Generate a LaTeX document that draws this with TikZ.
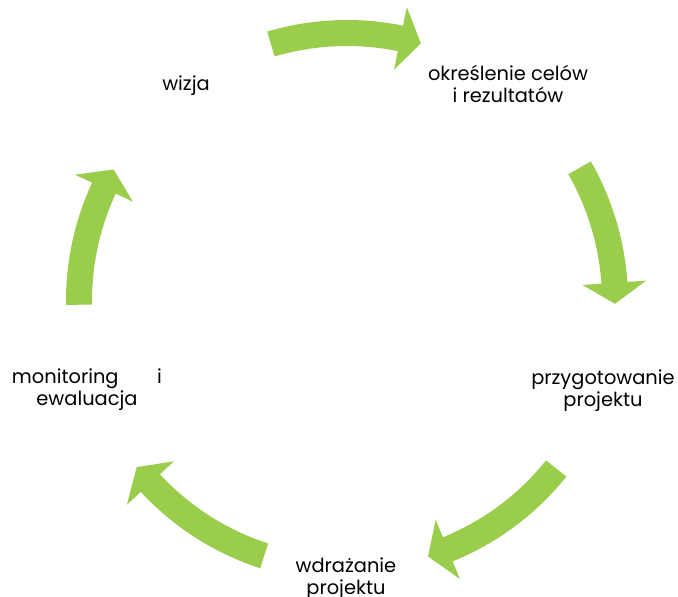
\documentclass[tikz,border=0pt]{standalone}
\usepackage{fontspec}
\setmainfont{Poppins}

\definecolor{cyclegreen}{RGB}{155,205,76}

\tikzset{
  stage/.style={font=\fontsize{13.8}{15.6}\selectfont, align=center},
  cyclearrow/.style={fill=cyclegreen, draw=none}
}

% curved arrow on the cycle: tail angle, tip angle
\newcommand{\bentarrow}[2]{%
  \fill[cyclearrow] (#1:281) arc[start angle=#1, end angle=#2+4.5, radius=281]
    -- (#2+4.5:300) -- (#2:268) -- (#2+4.5:236) -- (#2+4.5:255)
    arc[start angle=#2+4.5, end angle=#1, radius=255] -- cycle;}

\begin{document}
\begin{tikzpicture}[x=0.025cm, y=0.025cm]
\useasboundingbox (-347,-296) rectangle (331,301);

\node (wizja) at (-161,215) [stage] {wizja};
\node (cele) at (161,217) [stage] {określenie celów\\i rezultatów};
\node (przyg) at (256,-90) [stage] {przygotowanie\\projektu};
\node (wdraz) at (-1,-278) [stage] {wdrażanie\\projektu};
\node (monit) at (-260,-89) [stage] {\makebox[3.75cm][s]{monitoring i}\\ewaluacja};

\bentarrow{106.5}{74}
\bentarrow{29.8}{-0.6}
\bentarrow{-38.7}{-72.4}
\bentarrow{-108}{-141.7}
\bentarrow{180.8}{150.6}
\end{tikzpicture}
\end{document}
